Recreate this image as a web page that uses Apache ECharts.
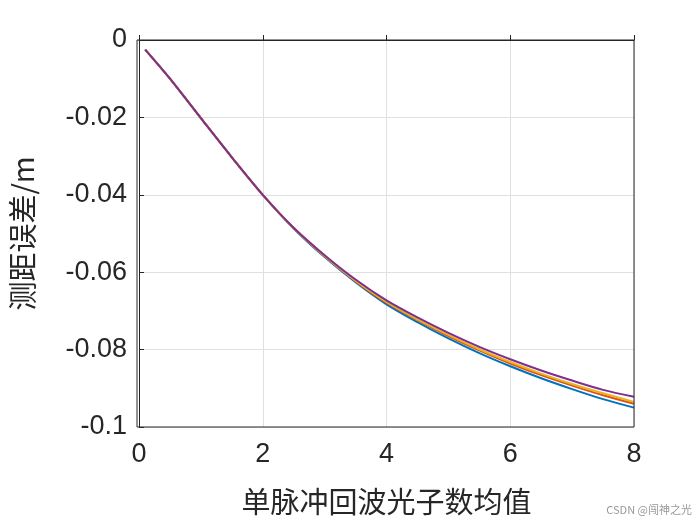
<!DOCTYPE html>
<html>
<head>
<meta charset="UTF-8">
<script src="https://cdn.jsdelivr.net/npm/echarts@6/dist/echarts.min.js"></script>
<style>body{margin:0;background:#fff}#c{width:700px;height:525px}</style>
</head>
<body>
<div id="c"></div>
<script>
var xs = [0.1, 0.5, 1, 1.5, 2, 2.5, 3, 3.5, 4, 4.5, 5, 5.5, 6, 6.5, 7, 7.5, 8];
var head = [-0.0025, -0.0100, -0.0202, -0.0303, -0.0400];
var blue = head.concat([-0.0487, -0.0561, -0.0626, -0.0683, -0.0729, -0.0771, -0.0809, -0.0843, -0.0874, -0.0902, -0.0928, -0.0950]);
var orange = head.concat([-0.0486, -0.0559, -0.0623, -0.0679, -0.0724, -0.0765, -0.0802, -0.0836, -0.0866, -0.0893, -0.0918, -0.0940]);
var yellow = head.concat([-0.0486, -0.0558, -0.0622, -0.0677, -0.0722, -0.0762, -0.0799, -0.0832, -0.0862, -0.0889, -0.0913, -0.0935]);
var purple = head.concat([-0.0485, -0.0556, -0.0619, -0.0673, -0.0717, -0.0757, -0.0793, -0.0825, -0.0854, -0.0880, -0.0904, -0.0922]);
var colors = ['#0072BD', '#D95319', '#EDB120', '#7E2F8E'];
var all = [blue, orange, yellow, purple];

function pts(arr) { return xs.map(function (x, i) { return [x, arr[i]]; }); }

var chart = echarts.init(document.getElementById('c'));
var ax = {
  axisLine: { show: true, lineStyle: { color: '#262626', width: 1 } },
  axisTick: { show: true, inside: true, length: 5, lineStyle: { color: '#262626' } },
  splitLine: { show: true, lineStyle: { color: '#e0e0e0' } },
  axisLabel: { color: '#262626', fontSize: 27, fontFamily: 'Liberation Sans' }
};
chart.setOption({
  animation: false,
  grid: { left: 137, right: 66, top: 40, bottom: 98 },
  xAxis: Object.assign({}, ax, {
    type: 'value', min: 0, max: 8, interval: 2,
    axisLabel: Object.assign({}, ax.axisLabel, { margin: 14 }),
    name: '单脉冲回波光子数均值', nameLocation: 'middle', nameGap: 60,
    nameTextStyle: { color: '#262626', fontSize: 29, fontFamily: 'Noto Sans CJK SC' }
  }),
  yAxis: Object.assign({}, ax, {
    type: 'value', min: -0.1, max: 0, interval: 0.02,
    axisLabel: Object.assign({}, ax.axisLabel, { margin: 12, formatter: function (v) { return Math.abs(v) < 1e-9 ? '0' : String(+v.toFixed(2)); } }),
    name: '测距误差/m', nameLocation: 'middle', nameGap: 102,
    nameTextStyle: { color: '#262626', fontSize: 29, fontFamily: 'Noto Sans CJK SC' }
  }),
  graphic: [
    { type: 'rect', shape: { x: 137, y: 40, width: 497, height: 387 }, style: { fill: 'none', stroke: '#262626', lineWidth: 1 }, z: 10 },
    { type: 'text', right: 8, bottom: 10, style: { text: 'CSDN @闯神之光', fill: '#999', fontSize: 11, fontFamily: 'Noto Sans CJK SC' } }
  ],
  series: all.map(function (arr, i) {
    return { type: 'line', data: pts(arr), smooth: 0.3, showSymbol: false, lineStyle: { color: colors[i], width: 2 } };
  })
});
</script>
</body>
</html>
